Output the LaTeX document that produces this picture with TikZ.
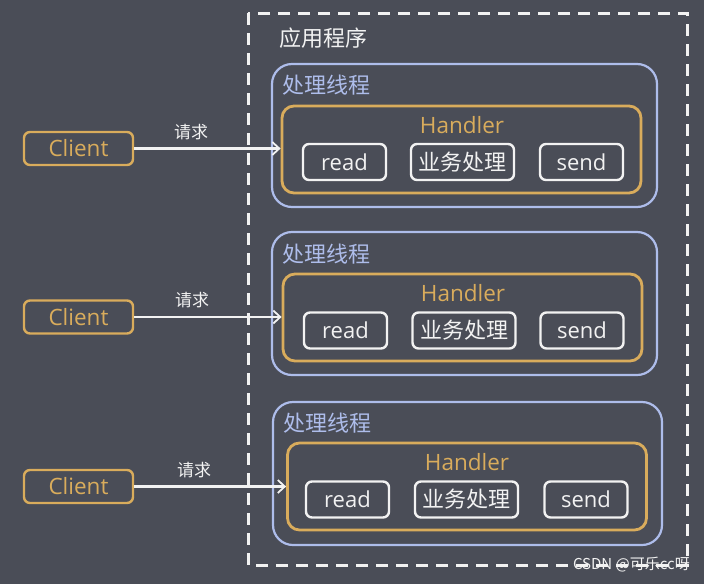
\documentclass[tikz,border=0pt]{standalone}
\usepackage{fontspec}
\setmainfont{Open Sans}
\newfontfamily\cjk{Noto Sans CJK SC}
\usetikzlibrary{arrows.meta}
\definecolor{bg}{HTML}{4A4D57}
\definecolor{gold}{HTML}{D9AC5C}
\definecolor{lblue}{HTML}{AEBDEB}
\definecolor{wtxt}{HTML}{F2F2F2}
\tikzset{
  thread/.style={draw=lblue, line width=2.2pt, rounded corners=20pt, inner sep=0pt},
  handler/.style={draw=gold, line width=2.8pt, rounded corners=12pt, minimum width=359pt, minimum height=87pt, inner sep=0pt},
  opbox/.style={draw=wtxt, line width=2.4pt, rounded corners=6pt, minimum height=36pt, text=wtxt, inner sep=0pt, font=\fontsize{22}{24}\selectfont},
  client/.style={draw=gold, line width=2.4pt, rounded corners=6pt, minimum width=109pt, minimum height=33pt, text=gold, inner sep=0pt, font=\fontsize{22.5}{24}\selectfont},
  req/.style={draw=wtxt, line width=2.2pt, -{Straight Barb[length=7pt,width=13pt,line width=1.8pt]}},
  reqlabel/.style={text=wtxt, font=\cjk\fontsize{17}{18}\selectfont},
  tlabel/.style={text=lblue, anchor=west, inner sep=0pt, font=\cjk\fontsize{22}{24}\selectfont},
  hlabel/.style={text=gold, inner sep=0pt, font=\fontsize{22.5}{24}\selectfont},
}
\begin{document}
\begin{tikzpicture}[x=1pt,y=-1pt]
\fill[bg] (0,0) rectangle (704,584);
\useasboundingbox (0,0) rectangle (704,584);
% outer dashed application box
\draw[wtxt, line width=3pt, dash pattern=on 12pt off 8pt] (248,13) rectangle (687,565);
\node[text=wtxt, anchor=west, inner sep=0pt, font=\cjk\fontsize{22}{24}\selectfont] (app) at (279,38) {应用程序};
% thread boxes
\node[thread, minimum width=385pt, minimum height=143pt] (t1) at (464.5,135.5) {};
\node[thread, minimum width=385pt, minimum height=143pt] (t2) at (464.5,303.5) {};
\node[thread, minimum width=389pt, minimum height=143pt] (t3) at (467.5,473.5) {};
\node[tlabel] (tl1) at (282,85) {处理线程};
\node[tlabel] (tl2) at (282,254) {处理线程};
\node[tlabel] (tl3) at (283,423) {处理线程};
% handler boxes
\node[handler] (h1) at (461.5,149.5) {};
\node[handler] (h2) at (462.5,317.5) {};
\node[handler] (h3) at (467,486.5) {};
\node[hlabel] (hl1) at (462,125) {Handler};
\node[hlabel] (hl2) at (463,293) {Handler};
\node[hlabel] (hl3) at (467,462) {Handler};
% operation boxes
\node[opbox, minimum width=83pt] (r1) at (344.5,162) {read};
\node[opbox, minimum width=103pt, font=\cjk\fontsize{22}{24}\selectfont] (b1) at (462.5,162) {业务处理};
\node[opbox, minimum width=83pt] (s1) at (581.5,162) {send};
\node[opbox, minimum width=83pt] (r2) at (345.5,330.5) {read};
\node[opbox, minimum width=103pt, font=\cjk\fontsize{22}{24}\selectfont] (b2) at (464,330.5) {业务处理};
\node[opbox, minimum width=83pt] (s2) at (582,330.5) {send};
\node[opbox, minimum width=83pt] (r3) at (347.5,499.5) {read};
\node[opbox, minimum width=103pt, font=\cjk\fontsize{22}{24}\selectfont] (b3) at (466.5,499.5) {业务处理};
\node[opbox, minimum width=83pt] (s3) at (586,499.5) {send};
% clients
\node[client] (c1) at (78.5,148.5) {Client};
\node[client] (c2) at (78.5,317) {Client};
\node[client] (c3) at (78.5,486.5) {Client};
% requests
\draw[req] (c1.east) -- (c1.east -| h1.west);
\draw[req] (c2.east) -- (c2.east -| h2.west);
\draw[req] (c3.east) -- (c3.east -| h3.west);
\node[reqlabel] (q1) at (191,132) {请求};
\node[reqlabel] (q2) at (192,300) {请求};
\node[reqlabel] (q3) at (194,470) {请求};
% watermark
\node[text=wtxt, anchor=east, inner sep=0pt, font=\cjk\fontsize{15}{16}\selectfont] (wm) at (690,565) {CSDN @可乐cc呀};
\end{tikzpicture}
\end{document}
